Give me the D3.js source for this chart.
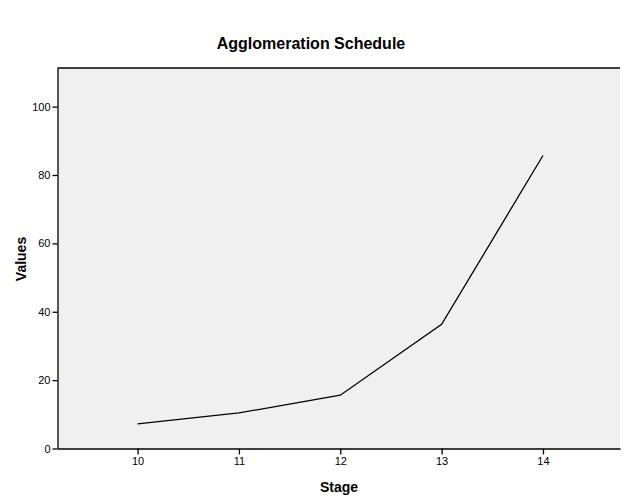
<!DOCTYPE html>
<html><head><meta charset="utf-8">
<script src="https://cdn.jsdelivr.net/npm/d3@7"></script>
<style>body{margin:0;background:#fff}svg{display:block}text{font-family:Arial,"Liberation Sans",sans-serif}</style>
</head><body><svg id="c" width="624" height="504"></svg>
<script>
const stages = [10, 11, 12, 13, 14];
const values = [7.2, 10.4, 15.6, 36.3, 85.7];
const yTicks = [0, 20, 40, 60, 80, 100];
const xTicks = [10, 11, 12, 13, 14];

const svg = d3.select("#c");
const L = 57.5, R = 620, T = 68, B = 448.5;
const x = d3.scaleLinear().domain([9.21, 14.76]).range([L, R]);
const y = d3.scaleLinear().domain([0, 111.3]).range([B, T]);

svg.append("rect").attr("x", L).attr("y", T).attr("width", R - L).attr("height", B - T).attr("fill", "#f0f0f0");
svg.append("line").attr("x1", L).attr("x2", R).attr("y1", T).attr("y2", T).attr("stroke", "#000").attr("stroke-width", 1.3);

const ya = svg.append("g").attr("transform", `translate(${L},0)`)
  .call(d3.axisLeft(y).tickValues(yTicks).tickFormat(d3.format("d")).tickSize(5).tickPadding(2).tickSizeOuter(0));
const xa = svg.append("g").attr("transform", `translate(0,${B})`)
  .call(d3.axisBottom(x).tickValues(xTicks).tickFormat(d3.format("d")).tickSize(6).tickPadding(3).tickSizeOuter(0));
[ya, xa].forEach(a => {
  a.selectAll("path").attr("stroke", "#000").attr("stroke-width", 1.3);
  a.selectAll("line").attr("stroke", "#000").attr("stroke-width", 1.3);
  a.selectAll("text").attr("font-size", 11).attr("fill", "#000").attr("font-family", "Arial, 'Liberation Sans', sans-serif");
});

const line = d3.line().x((d, i) => x(stages[i])).y(d => y(d));
svg.append("path").datum(values).attr("d", line).attr("fill", "none").attr("stroke", "#000").attr("stroke-width", 1.3);

svg.append("text").attr("x", 311).attr("y", 49).attr("text-anchor", "middle").attr("font-size", 16).attr("font-weight", "bold").text("Agglomeration Schedule");
svg.append("text").attr("x", 339).attr("y", 492).attr("text-anchor", "middle").attr("font-size", 14).attr("font-weight", "bold").text("Stage");
svg.append("text").attr("transform", "translate(26,259) rotate(-90)").attr("text-anchor", "middle").attr("font-size", 14).attr("font-weight", "bold").text("Values");
</script></body></html>
